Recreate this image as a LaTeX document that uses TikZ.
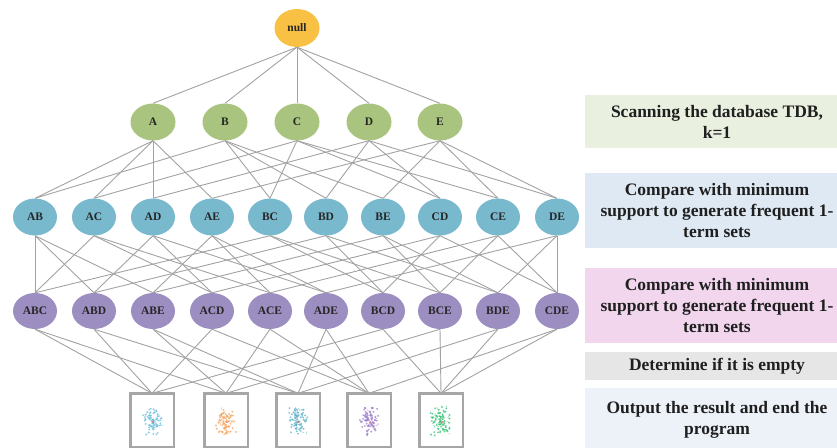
\documentclass[tikz,border=0pt]{standalone}
\usepackage{fontspec}
\setmainfont{Liberation Serif}
\usetikzlibrary{shapes.geometric}

\definecolor{nullc}{HTML}{F8C144}
\definecolor{lvone}{HTML}{A8C47E}
\definecolor{lvtwo}{HTML}{79B9CE}
\definecolor{lvthree}{HTML}{9C8EC1}
\definecolor{edgec}{HTML}{A2A2A2}
\definecolor{stepgreen}{HTML}{E9F0DF}
\definecolor{stepblue}{HTML}{DEE9F4}
\definecolor{steppink}{HTML}{F1D6EE}
\definecolor{stepgray}{HTML}{E6E6E6}
\definecolor{steplight}{HTML}{EDF2F9}
\definecolor{dotblue}{HTML}{6EC0DC}
\definecolor{dotorange}{HTML}{F6A35A}
\definecolor{dotteal}{HTML}{5EB2C8}
\definecolor{dotpurple}{HTML}{9A7CCB}
\definecolor{dotgreen}{HTML}{35C276}

\tikzset{
  item/.style={ellipse, inner sep=0pt, minimum width=44pt, minimum height=37pt,
    font=\fontsize{11.5}{12}\selectfont\bfseries, text=black!85},
  link/.style={draw=edgec, line width=0.9pt},
  stepbox/.style={rectangle, inner sep=0pt, minimum width=264pt, align=center,
    font=\fontsize{17.5}{21}\selectfont\bfseries, text=black!88},
  plotframe/.style={rectangle, draw=black!35, line width=2.4pt, fill=white,
    minimum width=41pt, minimum height=51pt, inner sep=0pt},
}

% scatter of small dots inside a result frame
\newcommand\drawscatter[3]{%
  \begin{scope}[shift={(#1.center)}]
    \pgfmathsetseed{#3}
    \foreach \i in {1,...,70}{
      \pgfmathsetmacro\px{6.5*rand+4*rand}
      \pgfmathsetmacro\py{11*rand+5*rand+1}
      \fill[#2, opacity=0.75] (\px,\py) circle (1.05pt);
    }
    \foreach \i in {1,...,18}{
      \pgfmathsetmacro\px{6*rand+3*rand}
      \pgfmathsetmacro\py{10*rand+4*rand+1}
      \pgfmathsetmacro\qx{\px+3.5*rand}
      \pgfmathsetmacro\qy{\py+3.5*rand}
      \draw[#2, opacity=0.7, line width=0.5pt] (\px,\py) -- (\qx,\qy);
    }
    \fill[red!70, opacity=0.8] (1,2) circle (1pt);
  \end{scope}%
}

\begin{document}
\begin{tikzpicture}[x=1pt,y=-1pt]
  \useasboundingbox (0,0) rectangle (837,447);
  \clip (0,0) rectangle (837,447);

  % root
  \node[item, fill=nullc, minimum width=45pt, minimum height=38pt] (null) at (297,28) {null};

  % 1-itemsets
  \foreach \n/\x in {A/153, B/225, C/297, D/369, E/440}
    \node[item, fill=lvone, minimum width=45pt] (n\n) at (\x,122) {\n};

  % 2-itemsets
  \foreach \n/\x in {AB/35, AC/94, AD/153, AE/212, BC/270, BD/326, BE/383, CD/440, CE/498, DE/557}
    \node[item, fill=lvtwo] (n\n) at (\x,217) {\n};

  % 3-itemsets
  \foreach \n/\x in {ABC/35, ABD/94, ABE/153, ACD/212, ACE/270, ADE/326, BCD/383, BCE/440, BDE/498, CDE/557}
    \node[item, fill=lvthree, minimum height=36pt] (n\n) at (\x,311) {\n};

  % result frames
  \foreach \k/\x in {1/152, 2/226, 3/298, 4/369, 5/441}
    \node[plotframe] (p\k) at (\x,420) {};

  % connectors
  \foreach \b in {A,B,C,D,E}
    \draw[link] (null.south) -- (n\b.north);

  \foreach \s/\a/\b in {AB/A/B, AC/A/C, AD/A/D, AE/A/E, BC/B/C, BD/B/D, BE/B/E, CD/C/D, CE/C/E, DE/D/E}{
    \draw[link] (n\a.south) -- (n\s.north);
    \draw[link] (n\b.south) -- (n\s.north);
  }

  \foreach \t/\a/\b/\c in {ABC/AB/AC/BC, ABD/AB/AD/BD, ABE/AB/AE/BE, ACD/AC/AD/CD, ACE/AC/AE/CE,
                           ADE/AD/AE/DE, BCD/BC/BD/CD, BCE/BC/BE/CE, BDE/BD/BE/DE, CDE/CD/CE/DE}{
    \draw[link] (n\a.south) -- (n\t.north);
    \draw[link] (n\b.south) -- (n\t.north);
    \draw[link] (n\c.south) -- (n\t.north);
  }

  \foreach \k/\a/\b/\c/\d in {1/ABC/ABD/ACD/BCD, 2/ABC/ABE/ACE/BCE, 3/ABD/ABE/ADE/BDE,
                              4/ACD/ACE/ADE/CDE, 5/BCD/BCE/BDE/CDE}{
    \draw[link] (n\a.south) -- (p\k.north);
    \draw[link] (n\b.south) -- (p\k.north);
    \draw[link] (n\c.south) -- (p\k.north);
    \draw[link] (n\d.south) -- (p\k.north);
  }

  % redraw frames above the connectors, then their scatter contents
  \foreach \k in {1,...,5}
    \draw[draw=black!35, line width=2.4pt, fill=white] (p\k.south west) rectangle (p\k.north east);
  \drawscatter{p1}{dotblue}{7}
  \drawscatter{p2}{dotorange}{19}
  \drawscatter{p3}{dotteal}{23}
  \drawscatter{p4}{dotpurple}{41}
  \drawscatter{p5}{dotgreen}{53}

  % process steps
  \node[stepbox, fill=stepgreen, minimum height=53pt] (s1) at (717,121.5)
    {Scanning the database TDB,\\ k=1};
  \node[stepbox, fill=stepblue, minimum height=75pt] (s2) at (717,210.5)
    {Compare with minimum\\ support to generate frequent 1-\\ term sets};
  \node[stepbox, fill=steppink, minimum height=75pt] (s3) at (717,305.5)
    {Compare with minimum\\ support to generate frequent 1-\\ term sets};
  \node[stepbox, fill=stepgray, minimum height=28pt] (s4) at (717,366)
    {Determine if it is empty};
  \node[stepbox, fill=steplight, minimum height=63pt] (s5) at (717,419.5)
    {Output the result and end the\\ program};
\end{tikzpicture}
\end{document}
